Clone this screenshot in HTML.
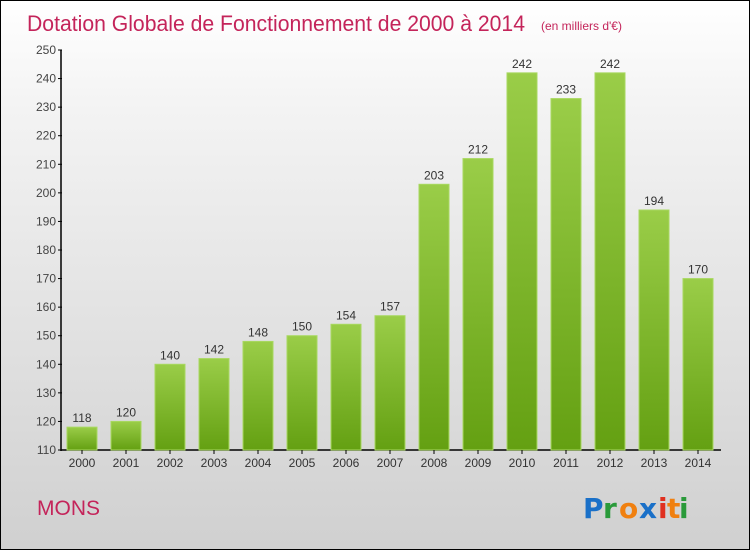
<!DOCTYPE html>
<html><head><meta charset="utf-8"><style>
body{margin:0;width:750px;height:550px;overflow:hidden;font-family:"Liberation Sans",sans-serif}
#frame{position:absolute;left:0;top:0;width:748px;height:548px;border:1px solid #000;background:linear-gradient(#ffffff,#f3f3f3 20%,#d0d0d0)}
</style></head><body>
<div id="frame">
<svg width="748" height="548">
<defs><linearGradient id="g" x1="0" y1="0" x2="0" y2="1"><stop offset="0" stop-color="#9acd48"/><stop offset="1" stop-color="#64a012"/></linearGradient></defs>
<text x="26" y="30" font-size="22" fill="#c4245a" textLength="498" lengthAdjust="spacingAndGlyphs">Dotation Globale de Fonctionnement de 2000 à 2014</text>
<text x="540" y="29" font-size="12" fill="#c4245a">(en milliers d'€)</text>
<g id="plot"></g>
<text x="36" y="514" font-size="21" fill="#c4245a">MONS</text>
<g font-size="28" font-weight="bold" font-family="'DejaVu Sans',sans-serif">
<text x="582" y="517" fill="#1a70c8">P</text><text x="602" y="517" fill="#2a9a3a">r</text><text x="618" y="517" fill="#f08010">o</text><text x="638" y="517" fill="#1a70c8">x</text><text x="657" y="517" fill="#e03020">i</text><text x="666" y="517" fill="#f08010">t</text><text x="678" y="517" fill="#2a9a3a">i</text></g>
</svg></div>
<script>
const years=["2000","2001","2002","2003","2004","2005","2006","2007","2008","2009","2010","2011","2012","2013","2014"];
const values=[118,120,140,142,148,150,154,157,203,212,242,233,242,194,170];
const yTicks=[110,120,130,140,150,160,170,180,190,200,210,220,230,240,250];
const NS="http://www.w3.org/2000/svg";
const g=document.getElementById('plot');
const y=v=>449-(v-110)*400/140;
const x=i=>81+i*44;
function mk(t,a,txt){const e=document.createElementNS(NS,t);for(const k in a)e.setAttribute(k,a[k]);if(txt!==undefined)e.textContent=txt;g.appendChild(e);return e;}
let ax=mk('line',{x1:60,y1:49,x2:60,y2:450,stroke:'#000','stroke-width':1.5});

let bx=mk('line',{x1:60,y1:449,x2:720,y2:449,stroke:'#000','stroke-width':1.5});

yTicks.forEach(t=>{
 mk('line',{x1:57,x2:61,y1:y(t),y2:y(t),stroke:'#000'});
 const l=mk('text',{x:55,y:y(t)+4,'text-anchor':'end','font-size':12,fill:'#444'},t);
 
});
values.forEach((v,i)=>{
 const r=mk('rect',{x:x(i)-15,y:y(v),width:30,height:449-y(v),fill:'url(#g)',stroke:'#a8d860','stroke-width':1});
 
 const t=mk('text',{x:x(i),y:y(v)-5,'text-anchor':'middle','font-size':12,fill:'#333'},v);
 
 mk('line',{x1:x(i),x2:x(i),y1:449,y2:453,stroke:'#000'});
 const xl=mk('text',{x:x(i),y:466,'text-anchor':'middle','font-size':12,fill:'#333'},years[i]);
 
});
</script>
</body></html>
